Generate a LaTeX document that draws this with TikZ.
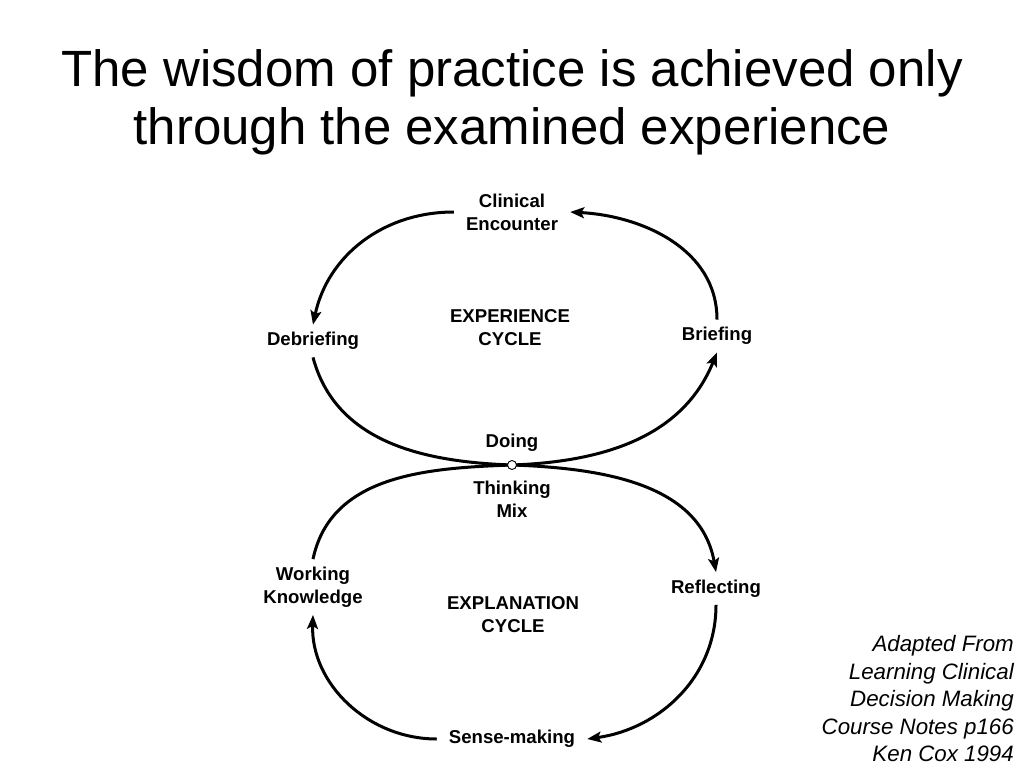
\documentclass[tikz,border=0pt]{standalone}
\usepackage{fontspec}
\setmainfont{Liberation Sans}
\usetikzlibrary{arrows.meta, positioning}

\begin{document}
\begin{tikzpicture}[x=1pt, y=-1pt,
    lbl/.style={font=\fontsize{18.6}{23}\selectfont\bfseries, align=center, inner xsep=12pt, inner ysep=7.5pt},
    flow/.style={line width=3pt, -{Stealth[length=14pt, width=11pt, inset=3pt]}},
    hubdot/.style={circle, draw, fill=white, line width=0.9pt, minimum size=9pt, inner sep=0pt}]
    \useasboundingbox (0,0) rectangle (1024,768);

    % Title
    \node (title) [font=\fontsize{51}{58}\selectfont, align=center] at (512,102) {The wisdom of practice is achieved only\\through the examined experience};

    % Nodes
    \node (clin) [lbl] at (512,212) {Clinical\\Encounter};
    \node (debrief) [lbl] at (313,341) {Debriefing};
    \node (brief) [lbl] at (717,336) {Briefing};
    \node (expcycle) [lbl] at (510,328) {EXPERIENCE\\CYCLE};
    \coordinate (mid) at (512,465);
    \node (working) [lbl] at (313,587) {Working\\Knowledge};
    \node (reflect) [lbl] at (716,588.5) {Reflecting};
    \node (sense) [lbl] at (512,739) {Sense-making};
    \node (expcycle2) [lbl] at (513,615) {EXPLANATION\\CYCLE};

    % Experience cycle
    \draw[flow] (clin.west) to[out=180, in=78] (debrief.north);
    \draw[flow] (brief.north) to[out=90, in=-3] (clin.east);
    \draw[flow] (debrief.south) to[out=-75, in=178] (mid) to[out=2, in=-112] (brief.south);

    % Explanation cycle
    \draw[flow] (working.north) to[out=78, in=182] (mid) to[out=-2, in=100] (reflect.north);
    \draw[flow] (reflect.south) to[out=-90, in=8] (sense.east);
    \draw[flow] (sense.west) to[out=180, in=-92] (working.south);

    % Doing/Thinking point
    \node (hub) [hubdot] at (mid) {};
    \node (doing) [lbl, inner sep=0pt, above=8pt of hub] {Doing};
    \node (mix) [lbl, inner sep=0pt, below=11pt of hub] {Thinking\\Mix};

    % Source
    \node (source) [font=\fontsize{22.3}{27.5}\selectfont\itshape, align=right, anchor=east, inner sep=0pt] at (1014,699) {Adapted From\\Learning Clinical\\Decision Making\\Course Notes p166\\Ken Cox 1994};
\end{tikzpicture}
\end{document}
